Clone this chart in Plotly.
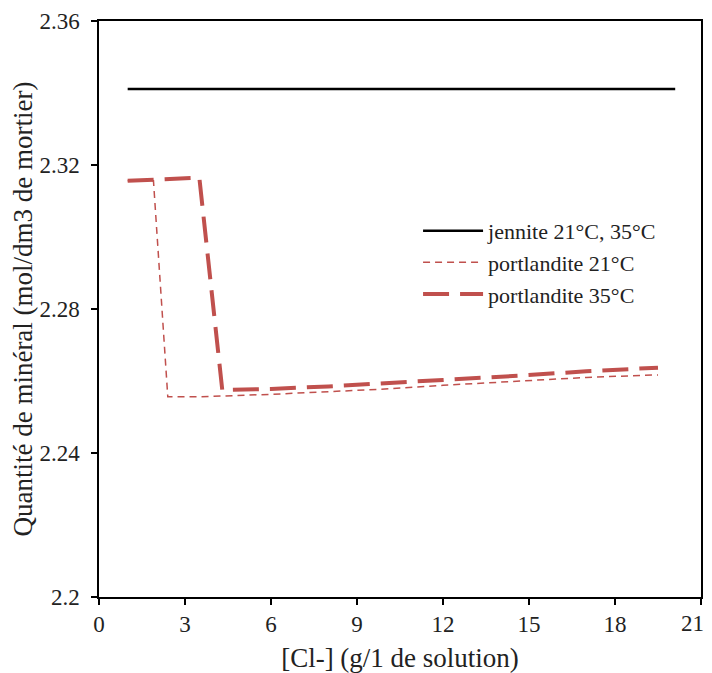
import plotly.graph_objects as go

# Data
jennite_x = [1.0, 20.1]
jennite_y = [2.3411, 2.3411]

port21_x = [1.0, 1.9, 2.4, 3.5, 6.0, 9.8, 12.0, 14.7, 17.0, 19.5]
port21_y = [2.3156, 2.3156, 2.2556, 2.2556, 2.2563, 2.2577, 2.2588, 2.2600, 2.2610, 2.2617]

port35_x = [1.0, 3.5, 4.3, 6.0, 8.0, 9.8, 12.0, 14.7, 17.0, 19.5]
port35_y = [2.3156, 2.3165, 2.2575, 2.2578, 2.2585, 2.2594, 2.2603, 2.2615, 2.2627, 2.2637]

x_ticks = [0, 3, 6, 9, 12, 15, 18, 21]
x_tick_labels = ["0", "3", "6", "9", "12", "15", "18", "21"]
y_ticks = [2.2, 2.24, 2.28, 2.32, 2.36]
y_tick_labels = ["2.2", "2.24", "2.28", "2.32", "2.36"]

red = "#C0504D"
font = "Liberation Serif"

fig = go.Figure()
fig.add_trace(go.Scatter(x=jennite_x, y=jennite_y, mode="lines",
                         name="jennite 21°C, 35°C",
                         line=dict(color="black", width=2.5)))
fig.add_trace(go.Scatter(x=port21_x, y=port21_y, mode="lines",
                         name="portlandite 21°C",
                         line=dict(color=red, width=1.5, dash="7px,5px")))
fig.add_trace(go.Scatter(x=port35_x, y=port35_y, mode="lines",
                         name="portlandite 35°C",
                         line=dict(color=red, width=4, dash="26px,11px")))

# last x tick label drawn as an annotation so it stays inside the page
shown_ticktext = x_tick_labels[:-1] + [""]
fig.add_annotation(x=x_ticks[-1], y=0, xref="x", yref="paper",
                   text=x_tick_labels[-1], showarrow=False,
                   xanchor="right", yanchor="top", xshift=5, yshift=-12,
                   font=dict(size=23, family=font, color="#222"))

fig.update_layout(
    width=704, height=665,
    margin=dict(l=91, r=11, t=13, b=76),
    paper_bgcolor="white", plot_bgcolor="white",
    font=dict(family=font, size=22, color="#222"),
    showlegend=True,
    legend=dict(x=0.53, y=0.672, xanchor="left", yanchor="top",
                bgcolor="rgba(0,0,0,0)", font=dict(size=22, family=font),
                tracegroupgap=0, itemwidth=60),
    xaxis=dict(range=[0, 21], tickvals=x_ticks, ticktext=shown_ticktext,
               showgrid=False, zeroline=False,
               showline=True, linecolor="black", linewidth=1.5, mirror=True,
               ticks="outside", ticklen=6, tickcolor="black", tickwidth=1.5,
               tickfont=dict(size=23, family=font), automargin=False,
               title=dict(text="[Cl-] (g/1 de solution)", font=dict(size=27, family=font), standoff=12)),
    yaxis=dict(range=[2.2, 2.36], tickvals=y_ticks, ticktext=y_tick_labels,
               showgrid=False, zeroline=False,
               showline=True, linecolor="black", linewidth=1.5, mirror=True,
               ticks="outside", ticklen=6, tickcolor="black", tickwidth=1.5,
               tickfont=dict(size=23, family=font), ticklabelstandoff=7,
               automargin=False, ticklabeloverflow="allow",
               title=dict(text="Quantité de minéral (mol/dm3 de mortier)",
                          font=dict(size=27, family=font), standoff=5)),
)

fig.write_html("out.html")
